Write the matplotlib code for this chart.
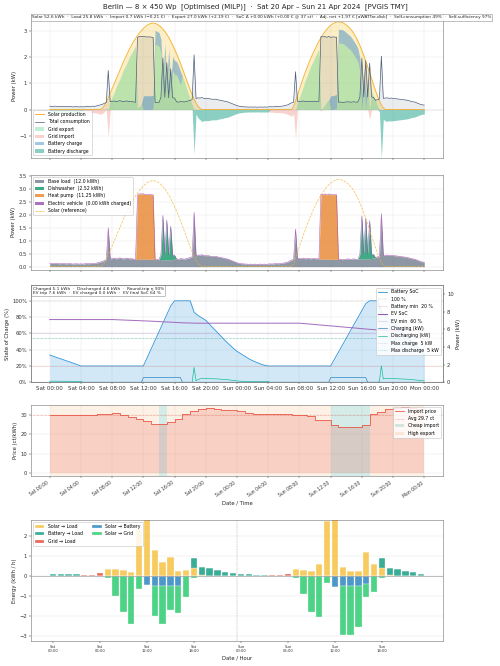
import numpy as np
import matplotlib
matplotlib.use("Agg")
import matplotlib.pyplot as plt
from matplotlib.patches import Patch
from matplotlib.lines import Line2D
from matplotlib.ticker import PercentFormatter

# ---------------------------------------------------------------- data
STEP_H = 0.25  # 15-minute resolution, hours since Sat 00:00

base_load_sat = [
    0.13, 0.12, 0.12, 0.13, 0.12, 0.11, 0.12, 0.12, 0.11, 0.11, 0.12, 0.11,
    0.10, 0.11, 0.11, 0.10, 0.11, 0.10, 0.11, 0.12, 0.11, 0.12, 0.13, 0.12,
    0.14, 0.16, 0.18, 0.20, 0.24, 0.27, 1.50, 0.30, 0.31, 0.33, 0.30, 0.32,
    0.34, 0.31, 0.30, 0.33, 0.32, 0.30, 0.31, 0.29, 0.28, 0.27, 0.29, 0.30,
    0.28, 0.29, 0.30, 0.27, 0.28, 0.29, 0.27, 0.28, 0.27, 0.28, 0.26, 0.27,
    0.25, 0.27, 0.26, 0.28, 0.29, 0.30, 0.28, 0.31, 0.30, 0.29, 0.31, 0.33,
    0.35, 0.38, 2.10, 0.42, 0.45, 0.44, 0.46, 0.43, 0.42, 0.43, 0.41, 0.40,
    0.39, 0.40, 0.38, 0.36, 0.35, 0.33, 0.31, 0.30, 0.27, 0.24, 0.21, 0.18,
]
base_load_sun = [
    0.15, 0.13, 0.12, 0.11, 0.10, 0.10, 0.09, 0.10, 0.09, 0.10, 0.09, 0.09,
    0.10, 0.09, 0.10, 0.09, 0.10, 0.11, 0.10, 0.11, 0.12, 0.11, 0.12, 0.13,
    0.14, 0.16, 0.18, 0.22, 0.26, 0.28, 1.45, 0.31, 0.32, 0.31, 0.33, 0.30,
    0.32, 0.31, 0.30, 0.32, 0.31, 0.30, 0.31, 0.28, 0.29, 0.30, 0.28, 0.29,
    0.27, 0.28, 0.29, 0.28, 0.28, 0.29, 0.27, 0.28, 0.29, 0.30, 0.28, 0.29,
    0.30, 0.28, 0.29, 0.30, 0.30, 0.29, 0.31, 0.30, 0.31, 0.32, 0.33, 0.35,
    0.38, 0.40, 2.05, 0.43, 0.44, 0.45, 0.43, 0.44, 0.43, 0.42, 0.41, 0.40,
    0.39, 0.38, 0.37, 0.36, 0.34, 0.32, 0.30, 0.29, 0.26, 0.23, 0.20, 0.18,
    0.17,
]

solar_sat_start_h = 6.5
solar_sat_kw = [
    0.00, 0.05, 0.15, 0.30, 0.45, 0.62, 0.80, 0.98, 1.16, 1.34, 1.52, 1.70,
    1.87, 2.03, 2.19, 2.34, 2.48, 2.61, 2.73, 2.84, 2.94, 3.03, 3.11, 3.18,
    3.24, 3.28, 3.31, 3.32, 3.31, 3.28, 3.23, 3.17, 3.09, 3.00, 2.89, 2.77,
    2.63, 2.48, 2.32, 2.15, 1.97, 1.78, 1.58, 1.38, 1.17, 0.96, 0.76, 0.57,
    0.40, 0.25, 0.13, 0.05, 0.00,
]
solar_sun_start_h = 31.0
solar_sun_kw = [
    0.00, 0.12, 0.32, 0.55, 0.78, 1.00, 1.22, 1.43, 1.63, 1.82, 2.00, 2.17,
    2.33, 2.48, 2.62, 2.75, 2.87, 2.98, 3.08, 3.16, 3.23, 3.29, 3.33, 3.36,
    3.37, 3.36, 3.34, 3.30, 3.25, 3.19, 3.11, 3.02, 2.91, 2.78, 2.63, 2.46,
    2.27, 2.07, 1.86, 1.64, 1.41, 1.18, 0.95, 0.73, 0.52, 0.33, 0.17, 0.06,
    0.00,
]

heat_pump_runs = [
    (11.25, [2.50, 2.52, 2.51, 2.53, 2.50, 2.49, 2.52, 2.50, 2.48]),
    (34.75, [2.52, 2.50, 2.51, 2.49, 2.52, 2.50, 2.51, 2.49, 2.50]),
]
dishwasher_runs = [
    (14.25, [0.18, 1.72, 0.20, 1.55, 0.18, 1.30, 0.17, 0.15]),
    (39.75, [0.18, 1.66, 0.19, 1.57, 0.18, 1.47, 0.16, 0.14]),
]
ev_charge_runs = []  # EV not charged in this window

charge_windows = [(12.0, 16.75, 0.53), (36.0, 40.5, 0.53)]
discharge_windows = [(0.0, 4.0), (18.25, 28.0), (42.25, 48.0)]

soc_half_hourly = [
    33.5, 31.8, 30.1, 28.5, 26.8, 25.2, 23.5, 21.8, 20.0,
    20, 20, 20, 20, 20, 20, 20, 20, 20, 20, 20, 20, 20, 20, 20, 20,
    30.5, 41.0, 51.5, 62.0, 72.5, 83.0, 93.5, 100,
    100, 100, 100, 100,
    86, 82, 79, 76, 71, 66, 61, 56, 51, 46.5, 42, 38,
    35, 32, 29, 26.5, 24.5, 22.5, 21, 20,
    20, 20, 20, 20, 20, 20, 20, 20, 20, 20, 20, 20, 20, 20, 20, 20,
    28.5, 37, 45.5, 54, 62.5, 71, 79.5, 88, 96.5, 100,
    100, 100,
    86, 82, 78, 74, 69, 64, 59, 54, 49, 44.5, 39, 33.5,
]
ev_soc_hourly = [
    77.0, 77.0, 77.0, 77.0, 77.0, 77.0, 77.0, 77.0, 77.0,
    76.6, 76.2, 75.8, 75.4, 75.0, 74.5, 74.0, 73.5, 73.0, 72.7,
    72.5, 72.5, 72.5, 72.5, 72.5, 72.5, 72.5, 72.5, 72.5, 72.5, 72.5, 72.5, 72.5, 72.5,
    71.7, 70.9, 70.0, 69.2, 68.4, 67.5, 66.7, 65.8, 65.0, 64.3,
    64.0, 64.0, 64.0, 64.0, 64.0, 64.0,
]
battery_min_pct = 20
ev_min_pct = 60
max_charge_kw = 5
max_discharge_kw = 5

price_ct = [
    29.9, 29.8, 29.7, 29.7, 29.9, 30.1, 30.3, 30.5, 30.8, 30.0, 28.8, 27.9,
    26.9, 25.2, 25.1, 26.1, 27.8, 30.3, 31.9, 33.0, 33.7, 33.2, 32.7, 32.5,
    32.0, 30.7, 30.4, 30.3, 30.3, 30.2, 30.3, 30.1, 30.1, 29.6, 27.2, 27.2,
    24.7, 23.9, 23.8, 23.9, 24.7, 30.3, 31.5, 32.9, 33.7, 34.0, 33.5, 33.0,
]
cheap_import_hours = [14, 36, 37, 38, 39, 40]

solar_to_load = [
    0, 0, 0, 0, 0, 0, 0, 0.35, 0.33, 0.28, 0.22, 2.35,
    3.00, 1.30, 0.72, 0.97, 0.25, 0.30, 0.40, 0.05, 0, 0, 0, 0,
    0, 0, 0, 0, 0, 0, 0, 0.33, 0.32, 0.27, 0.62, 2.75,
    3.00, 0.45, 0.25, 0.25, 1.20, 0.62, 0.40, 0.04, 0, 0, 0, 0,
]
battery_to_load = [
    0.12, 0.08, 0.08, 0.08, 0, 0, 0, 0, 0, 0, 0, 0,
    0, 0, 0, 0, 0, 0, 0.52, 0.40, 0.38, 0.30, 0.22, 0.15,
    0.08, 0.08, 0.05, 0.05, 0, 0, 0, 0, 0, 0, 0, 0,
    0, 0, 0, 0, 0, 0, 0.52, 0.35, 0.35, 0.27, 0.22, 0.12,
]
grid_to_load = [
    0, 0, 0, 0, 0.06, 0.07, 0.17, 0, 0, 0, 0, 0,
    0, 0, 0, 0, 0, 0, 0, 0, 0, 0, 0, 0,
    0, 0, 0, 0, 0.05, 0.06, 0.10, 0, 0, 0, 0, 0,
    0, 0, 0, 0, 0, 0, 0, 0, 0, 0, 0, 0,
]
solar_to_battery = [
    0, 0, 0, 0, 0, 0, 0, 0, 0, 0, 0, 0,
    0.45, 0.50, 0.50, 0.50, 0.50, 0, 0, 0, 0, 0, 0, 0,
    0, 0, 0, 0, 0, 0, 0, 0, 0, 0, 0, 0,
    0.55, 0.52, 0.50, 0.50, 0.42, 0, 0, 0, 0, 0, 0, 0,
]
solar_to_grid = [
    0, 0, 0, 0, 0, 0, 0, 0.08, 0.98, 1.80, 2.40, 0.65,
    0, 1.50, 1.88, 1.22, 1.37, 1.07, 0.12, 0, 0, 0, 0, 0,
    0, 0, 0, 0, 0, 0, 0, 0.08, 0.90, 1.80, 2.05, 0.35,
    0, 2.43, 2.45, 2.05, 0.63, 0.80, 0.10, 0, 0, 0, 0, 0,
]

time_tick_labels = ["Sat 00:00", "Sat 04:00", "Sat 08:00", "Sat 12:00", "Sat 16:00",
                    "Sat 20:00", "Sun 00:00", "Sun 04:00", "Sun 08:00", "Sun 12:00",
                    "Sun 16:00", "Sun 20:00", "Mon 00:00"]
hour_tick_labels = ["Sat\n00:00", "Sat\n06:00", "Sat\n12:00", "Sat\n18:00",
                    "Sun\n00:00", "Sun\n06:00", "Sun\n12:00", "Sun\n18:00"]

title = ("Berlin — 8 × 450 Wp  [Optimised (MILP)]  ·  "
         "Sat 20 Apr – Sun 21 Apr 2024  [PVGIS TMY]")
stats_text = ("Solar 52.6 kWh  ·  Load 25.8 kWh  ·  Import 0.7 kWh (−0.21 €)  ·  "
              "Export 27.0 kWh (+2.19 €)  ·  SoC Δ +0.00 kWh (+0.00 € @ 37 ct)  ·  "
              "Adj. net +1.97 € [aWATTar-disk]  ·  Self-consumption 49%  ·  "
              "Self-sufficiency 97%")
battery_text = ("Charged 5.1 kWh  ·  Discharged 4.6 kWh  ·  Round-trip η 90%\n"
                "EV trip 7.6 kWh  ·  EV charged 0.0 kWh  ·  EV final SoC 64 %")

# ---------------------------------------------------------------- series
t = np.arange(len(base_load_sat) + len(base_load_sun)) * STEP_H
base = np.array(base_load_sat + base_load_sun, dtype=float)


def place(runs):
    arr = np.zeros_like(t)
    for start, vals in runs:
        i0 = int(round(start / STEP_H))
        arr[i0:i0 + len(vals)] = vals
    return arr


solar = place([(solar_sat_start_h, solar_sat_kw), (solar_sun_start_h, solar_sun_kw)])
heat_pump = place(heat_pump_runs)
dishwasher = place(dishwasher_runs)
ev = place(ev_charge_runs)
load = base + dishwasher + heat_pump + ev

charge = np.zeros_like(t)
for a, b, p in charge_windows:
    charge[(t >= a) & (t <= b)] = p
discharge = np.zeros_like(t)
for a, b in discharge_windows:
    m = (t >= a) & (t <= b)
    discharge[m] = np.clip(load[m] - solar[m], 0, None)
export = np.clip(solar - load - charge, 0, None)
grid_import = np.clip(load - solar - discharge, 0, None)

t_half = np.arange(len(soc_half_hourly)) * 0.5
t_hour = np.arange(len(ev_soc_hourly)) * 1.0
price = np.array(price_ct)
price_edges = np.arange(len(price) + 1)
price_step = np.append(price, price[-1])
hours = np.arange(len(solar_to_load))

# ---------------------------------------------------------------- style
plt.rcParams.update({
    "font.family": ["DejaVu Sans"],
    "axes.edgecolor": "#777777",
    "axes.linewidth": 1.0,
    "xtick.color": "#333333",
    "ytick.color": "#333333",
    "axes.labelcolor": "#222222",
})
C_SOLAR = "#f5b32e"
C_LOAD = "#4b5d78"
C_EXPORT = "#2ecc71"
C_IMPORT = "#e74c3c"
C_CHARGE = "#2e86c1"
C_DISCH = "#16a085"

W, H = 500, 666
fig = plt.figure(figsize=(12, 12 * H / W), dpi=W / 12)


def axes_px(left, top, right, bottom):
    return fig.add_axes([left / W, 1 - bottom / H, (right - left) / W, (bottom - top) / H])


def style_grid(ax, axis="both"):
    ax.grid(True, axis=axis, color="#cccccc", lw=0.6, alpha=0.6)
    ax.set_axisbelow(True)


XL = (-2.4, 50.4)
tick_pos = np.arange(0, 49, 4)
LEG = dict(fontsize=8, framealpha=0.85, edgecolor="#bbbbbb")
YT = 9

fig.text(0.51, 1 - 6.5 / H, title, ha="center", va="center", fontsize=12, color="#222222")

# ---- panel 1: power flows
ax1 = axes_px(31, 14.5, 443, 157.7)
ax1.fill_between(t, 0, solar, color="#f7c948", alpha=0.3, lw=0)
ax1.fill_between(t, 0, load, color="#5d6d7e", alpha=0.13, lw=0)
ax1.fill_between(t, 0, export, color=C_EXPORT, alpha=0.3, lw=0)
ax1.fill_between(t, export, export + charge, color=C_CHARGE, alpha=0.45, lw=0)
ax1.fill_between(t, 0, -grid_import, color=C_IMPORT, alpha=0.25, lw=0)
ax1.fill_between(t, 0, -discharge, color=C_DISCH, alpha=0.5, lw=0)
ax1.plot(t, solar, color=C_SOLAR, lw=1.6)
ax1.plot(t, load, color=C_LOAD, lw=1.2)
ax1.axhline(0, color="#aaaaaa", lw=0.6, alpha=0.6)
ax1.set_xlim(*XL)
ax1.set_ylim(-1.85, 3.65)
ax1.set_xticks(tick_pos)
ax1.set_xticklabels([])
ax1.set_yticks([-1, 0, 1, 2, 3])
ax1.tick_params(labelsize=YT)
ax1.set_ylabel("Power (kW)", fontsize=9)
style_grid(ax1)
h1 = [Line2D([], [], color=C_SOLAR, lw=1.6), Line2D([], [], color=C_LOAD, lw=1.2),
      Patch(fc=C_EXPORT, alpha=0.3), Patch(fc=C_IMPORT, alpha=0.25),
      Patch(fc=C_CHARGE, alpha=0.45), Patch(fc=C_DISCH, alpha=0.5)]
ax1.legend(h1, ["Solar production", "Total consumption", "Grid export", "Grid import",
                "Battery charge", "Battery discharge"], loc="lower left", **LEG)
ax1.text(0.002, 0.995, stats_text, transform=ax1.transAxes, ha="left", va="top",
         fontsize=7.4, color="#222222",
         bbox=dict(boxstyle="square,pad=0.3", fc="white", ec="#888888", alpha=0.9))

# ---- panel 2: load breakdown
ax2 = axes_px(31, 174.7, 443, 269.5)
s1 = base
s2 = s1 + dishwasher
s3 = s2 + heat_pump
s4 = s3 + ev
ax2.fill_between(t, 0, s1, color="#5d6d7e", alpha=0.7, lw=0)
ax2.fill_between(t, s1, s2, color="#1e9c6e", alpha=0.85, lw=0)
ax2.fill_between(t, s2, s3, color="#e67e22", alpha=0.75, lw=0)
ax2.fill_between(t, s3, s4, color="#8e44ad", alpha=0.75, lw=0)
ax2.plot(t, s4, color="#a24bb0", lw=0.9, alpha=0.9)
ax2.plot(t, solar, color=C_SOLAR, lw=1.2, ls="--", alpha=0.85)
ax2.set_xlim(*XL)
ax2.set_ylim(-0.11, 3.55)
ax2.set_xticks(tick_pos)
ax2.set_xticklabels([])
ax2.set_yticks(np.arange(0, 3.51, 0.5))
ax2.tick_params(labelsize=YT)
ax2.set_ylabel("Power (kW)", fontsize=9)
style_grid(ax2)
h2 = [Patch(fc="#5d6d7e", alpha=0.7), Patch(fc="#1e9c6e", alpha=0.85),
      Patch(fc="#e67e22", alpha=0.75), Patch(fc="#8e44ad", alpha=0.75),
      Line2D([], [], color=C_SOLAR, lw=1.2, ls="--")]
ax2.legend(h2, ["Base load  (12.0 kWh)", "Dishwasher  (2.52 kWh)", "Heat pump  (11.25 kWh)",
                "Electric vehicle  (0.00 kWh charged)", "Solar (reference)"],
           loc="upper left", **LEG)

# ---- panel 3: battery / EV state
ax3 = axes_px(31, 285.3, 443, 382.3)
ax3.fill_between(t_half, 0, soc_half_hourly, color="#3498db", alpha=0.22, lw=0)
ax3.plot(t_half, soc_half_hourly, color="#3498db", lw=1.5)
ax3.axhline(100, color="#999999", lw=0.8, ls=":")
ax3.axhline(battery_min_pct, color=C_IMPORT, lw=1.0, alpha=0.3)
ax3.plot(t_hour, ev_soc_hourly, color="#9b59b6", lw=1.8, alpha=0.85)
ax3.axhline(ev_min_pct, color="#9b59b6", lw=2.0, alpha=0.2)
ax3.set_xlim(*XL)
ax3.set_ylim(0, 119)
ax3.set_yticks([0, 20, 40, 60, 80, 100])
ax3.yaxis.set_major_formatter(PercentFormatter(decimals=0))
ax3.set_xticks(tick_pos)
ax3.set_xticklabels(time_tick_labels)
ax3.tick_params(axis="y", labelsize=YT)
ax3.tick_params(axis="x", labelsize=9.5)
ax3.set_ylabel("State of Charge (%)", fontsize=9)
style_grid(ax3)
ax3r = ax3.twinx()
ax3r.plot(t, charge, color=C_CHARGE, lw=1.2)
ax3r.plot(t, discharge, color="#1abc9c", lw=1.2)
ax3r.axhline(max_charge_kw, color="#7f8c8d", lw=0.9, ls=":", alpha=0.7)
ax3r.axhline(max_discharge_kw, color="#1abc9c", lw=0.9, ls=":", alpha=0.9)
ax3r.set_ylim(0, 11)
ax3r.set_yticks([0, 2, 4, 6, 8, 10])
ax3r.tick_params(labelsize=YT)
ax3r.set_ylabel("Power (kW)", fontsize=9)
h3 = [Line2D([], [], color="#3498db", lw=1.5), Line2D([], [], color="#999999", lw=0.8, ls=":"),
      Line2D([], [], color=C_IMPORT, lw=1.0, alpha=0.3), Line2D([], [], color="#9b59b6", lw=1.8),
      Line2D([], [], color="#9b59b6", lw=2.0, alpha=0.2), Line2D([], [], color=C_CHARGE, lw=1.2),
      Line2D([], [], color="#1abc9c", lw=1.2),
      Line2D([], [], color="#7f8c8d", lw=0.9, ls=":", alpha=0.7),
      Line2D([], [], color="#1abc9c", lw=0.9, ls=":", alpha=0.9)]
ax3r.legend(h3, ["Battery SoC", "100 %", f"Battery min  {battery_min_pct} %", "EV SoC",
                 f"EV min  {ev_min_pct} %", "Charging (kW)", "Discharging (kW)",
                 f"Max charge  {max_charge_kw} kW", f"Max discharge  {max_discharge_kw} kW"],
            loc="upper right", **LEG)
ax3.text(0.005, 0.985, battery_text, transform=ax3.transAxes, ha="left", va="top",
         fontsize=7.4, color="#222222",
         bbox=dict(boxstyle="round,pad=0.3", fc="white", ec="#888888", alpha=0.9))

# ---- panel 4: prices
ax4 = axes_px(31, 404.7, 443, 476.3)
for hh in range(len(price)):
    if hh in cheap_import_hours:
        ax4.axvspan(hh, hh + 1, color="#2a9d8f", alpha=0.2, lw=0)
    else:
        ax4.axvspan(hh, hh + 1, color="#f5a35c", alpha=0.15, lw=0)
ax4.fill_between(price_edges, 0, price_step, step="post", color=C_IMPORT, alpha=0.2, lw=0)
ax4.step(price_edges, price_step, where="post", color=C_IMPORT, lw=1.3)
avg = price.mean()
ax4.axhline(avg, color=C_IMPORT, lw=0.9, ls=":")
ax4.set_xlim(*XL)
ax4.set_ylim(-1.6, 35.2)
ax4.set_yticks([0, 10, 20, 30])
ax4.set_xticks(tick_pos)
ax4.set_xticklabels(time_tick_labels, rotation=35, ha="right")
ax4.tick_params(axis="x", labelsize=8)
ax4.tick_params(axis="y", labelsize=YT)
ax4.set_ylabel("Price (ct/kWh)", fontsize=9)
ax4.set_xlabel("Date / Time", fontsize=9)
style_grid(ax4)
h4 = [Line2D([], [], color=C_IMPORT, lw=1.3), Line2D([], [], color=C_IMPORT, lw=0.9, ls=":"),
      Patch(fc="#2a9d8f", alpha=0.2), Patch(fc="#f5a35c", alpha=0.2)]
ax4.legend(h4, ["Import price", f"Avg {avg:.1f} ct", "Cheap import", "High export"],
           loc="upper right", **LEG)

# ---- panel 5: hourly energy bars
ax5 = axes_px(31, 520, 443, 640.7)
s2l = np.array(solar_to_load)
b2l = np.array(battery_to_load)
g2l = np.array(grid_to_load)
s2b = np.array(solar_to_battery)
s2g = np.array(solar_to_grid)
BK = dict(width=0.8, alpha=0.85, edgecolor="white", linewidth=0.6)
ax5.bar(hours, s2l, color="#f7c244", label="Solar → Load", **BK)
ax5.bar(hours, b2l, bottom=s2l, color="#16a085", label="Battery → Load", **BK)
ax5.bar(hours, g2l, bottom=s2l + b2l, color="#e74c3c", label="Grid → Load", **BK)
ax5.bar(hours, -s2b, color="#2e86c1", label="Solar → Battery", **BK)
ax5.bar(hours, -s2g, bottom=-s2b, color="#2ecc71", label="Solar → Grid", **BK)
ax5.axhline(0, color="#aaaaaa", lw=1.6, alpha=0.8)
ax5.axvline(23.5, color="#aaaaaa", lw=0.8, ls="--")
ax5.set_xlim(-2.8, 49.8)
ax5.set_ylim(-3.23, 2.8)
ax5.set_yticks([-3, -2, -1, 0, 1, 2])
ax5.set_xticks(np.arange(0, 48, 6))
ax5.set_xticklabels(hour_tick_labels)
ax5.tick_params(axis="x", labelsize=6.5)
ax5.tick_params(axis="y", labelsize=YT)
ax5.set_ylabel("Energy (kWh / h)", fontsize=9)
ax5.set_xlabel("Date / Hour", fontsize=9)
style_grid(ax5, axis="y")
ax5.legend(loc="upper left", ncol=2, **LEG)

fig.savefig("out.png", dpi=W / 12)
